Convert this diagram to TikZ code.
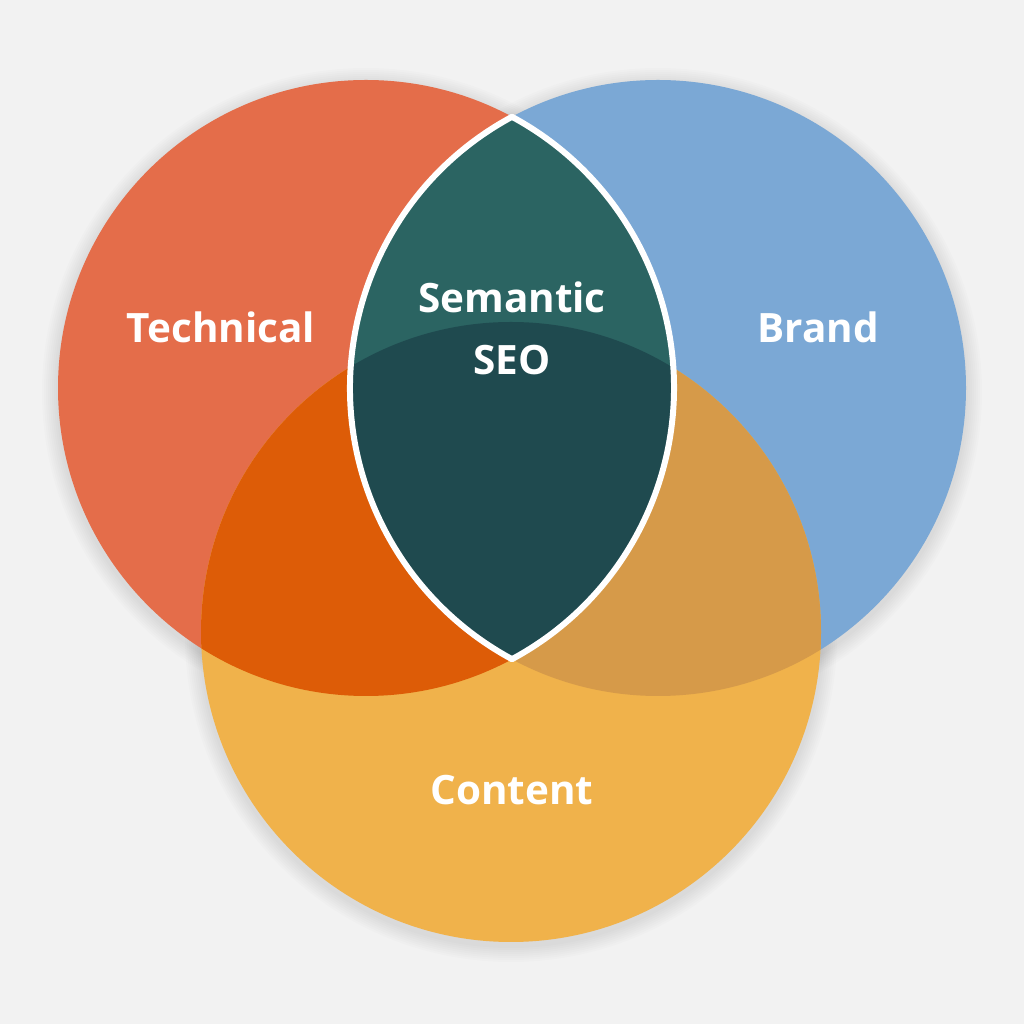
\documentclass[tikz,border=0pt]{standalone}
\usepackage{fontspec}
\setmainfont{Open Sans}
\usetikzlibrary{calc}
\definecolor{bgc}{HTML}{F2F2F2}
\definecolor{redc}{HTML}{E46D4A}
\definecolor{bluec}{HTML}{7BA8D5}
\definecolor{yelc}{HTML}{F0B24B}
\definecolor{ryc}{HTML}{DD5C07}
\definecolor{byc}{HTML}{D69A49}
\definecolor{lensup}{HTML}{2B6462}
\definecolor{lenslo}{HTML}{1F4A4F}
\tikzset{
  lbl/.style={text=white, font=\fontsize{11.5}{13}\selectfont\bfseries, anchor=base, inner sep=0pt},
  shadring/.style={fill=black, fill opacity=0.012}
}
\begin{document}
\begin{tikzpicture}[x=0.01cm,y=0.01cm]
\fill[bgc] (0,0) rectangle (1024,1024);
\useasboundingbox (0,0) rectangle (1024,1024);
\coordinate (R) at (366,636);
\coordinate (B) at (658,636);
\coordinate (Y) at (511,392);
% soft shadows
\foreach \d in {2,4,...,16}{
  \fill[shadring] ($(R)+(0,-4)$) circle[radius=308+\d];
  \fill[shadring] ($(B)+(0,-4)$) circle[radius=308+\d];
  \fill[shadring] ($(Y)+(0,-4)$) circle[radius=310+\d];
}
% circles
\fill[redc] (R) circle[radius=308];
\fill[bluec] (B) circle[radius=308];
\fill[yelc] (Y) circle[radius=310];
\begin{scope}
  \clip (Y) circle[radius=310];
  \fill[ryc] (R) circle[radius=308];
  \fill[byc] (B) circle[radius=308];
\end{scope}
% lens
\begin{scope}
  \clip (R) circle[radius=308];
  \fill[lensup] (B) circle[radius=308];
  \clip (B) circle[radius=308];
  \fill[lenslo] (Y) circle[radius=310];
\end{scope}
\draw[white, line width=1.7pt, line join=round]
  ($(B)+(118.3:308)$) arc[start angle=118.3, end angle=241.7, radius=308]
  arc[start angle=-61.7, end angle=61.7, radius=308] -- cycle;
% labels
\node[lbl] (tech) at (221,681) {Technical};
\node[lbl] (brand) at (818,681) {Brand};
\node[lbl] (sem) at (512,711) {Semantic};
\node[lbl] (seo) at (512,649) {SEO};
\node[lbl] (cont) at (512,219) {Content};
\end{tikzpicture}
\end{document}
